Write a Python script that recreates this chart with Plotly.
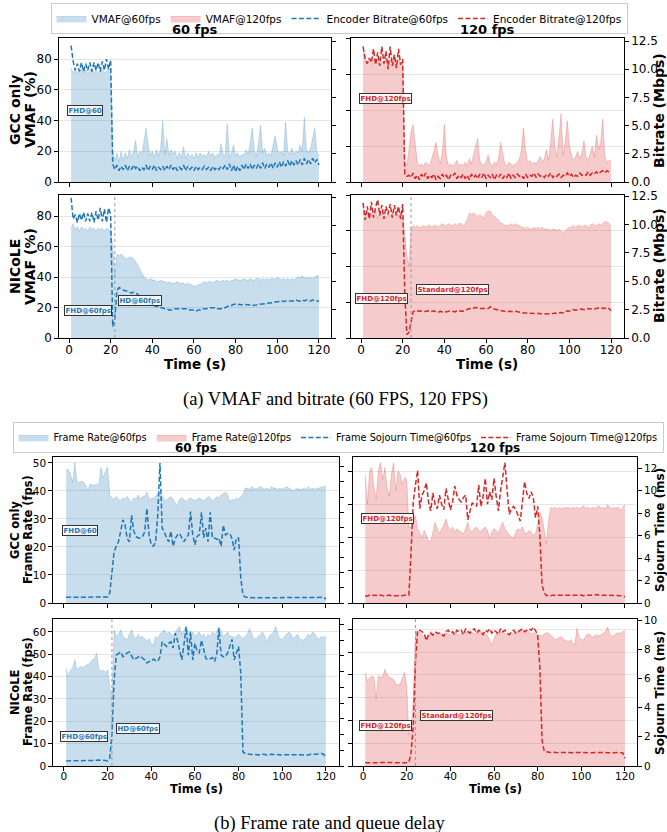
import plotly.graph_objects as go

W, H = 667, 832
t = list(range(1, 121))
x_ticks = [0, 20, 40, 60, 80, 100, 120]

# ---------------- (a) VMAF (fill) and encoder bitrate (dashed line) ----------------
vmaf60_gcc = [74,71,73,71,72,74,71,73,71,72,74,71,73,71,72,73,71,72,74,73,
              20,14,19,13,20,14,19,15,21,16,20,27,16,20,18,26,35,24,17,20,
              16,21,17,22,40,18,28,17,21,18,20,15,19,16,23,15,19,16,18,15,
              19,16,19,17,18,16,20,17,19,16,18,17,25,18,17,38,16,19,24,17,
              19,16,18,17,21,18,25,35,20,17,25,37,19,22,17,19,17,24,30,22,
              18,20,17,39,20,18,22,18,20,19,24,20,42,21,19,22,28,35,20,17]
br60_gcc = [12.1,10.7,9.9,10.5,9.8,10.6,9.8,10.5,9.9,10.6,9.8,10.6,9.9,10.6,9.8,10.7,9.9,10.9,10.0,10.8,
            1.6,1.1,1.5,1.0,1.4,1.1,1.5,1.0,1.4,1.1,1.5,1.2,1.4,1.0,1.3,1.1,1.5,1.0,1.4,1.1,
            1.5,1.0,1.3,1.1,1.4,1.0,1.4,1.1,1.5,1.1,1.4,1.0,1.3,1.1,1.5,1.0,1.4,1.1,1.3,1.0,
            1.4,1.1,1.3,1.1,1.4,1.1,1.3,1.0,1.4,1.1,1.3,1.1,1.4,1.2,1.5,1.1,1.6,1.0,1.5,0.9,
            1.4,1.0,1.5,1.1,1.6,1.2,1.6,1.1,1.5,1.2,1.6,1.2,1.7,1.2,1.6,1.3,1.7,1.2,1.7,1.3,
            1.8,1.3,1.8,1.4,1.9,1.4,1.9,1.5,1.9,1.5,2.0,1.5,2.1,1.6,2.0,1.6,2.1,1.7,2.0,1.5]
vmaf120_gcc = [76,68,66,69,65,68,66,69,65,67,66,69,65,68,66,69,65,68,66,67,
               12,9,18,28,32,20,11,9,10,9,11,10,9,13,18,22,15,10,16,32,
               14,9,10,9,10,12,9,10,9,11,9,13,10,16,20,24,12,9,10,11,
               15,10,9,11,10,13,22,15,10,9,11,10,9,10,11,13,18,30,17,11,
               12,10,11,10,12,14,11,13,18,12,22,35,20,14,25,38,15,22,34,20,
               15,12,14,17,13,16,23,14,12,16,20,14,26,18,22,35,14,11,12,12]
br120_gcc = [12.0,10.9,10.5,11.0,10.6,11.8,10.4,11.5,10.3,12.0,10.5,11.6,10.0,12.0,10.3,11.3,10.1,11.8,10.4,10.9,
             0.7,0.5,0.6,0.4,0.8,0.3,0.6,0.2,0.7,0.4,0.8,0.3,0.6,0.4,0.7,0.2,0.5,0.3,0.7,0.4,
             0.6,0.2,0.6,0.5,0.8,0.3,0.6,0.4,0.7,0.3,0.6,0.2,0.7,0.4,0.6,0.3,0.7,0.4,0.8,0.3,
             0.6,0.4,0.7,0.2,0.6,0.4,0.7,0.3,0.6,0.4,0.8,0.3,0.6,0.4,0.7,0.5,0.6,0.3,0.7,0.4,
             0.6,0.5,0.8,0.4,0.7,0.5,0.6,0.4,0.7,0.5,0.8,0.4,0.6,0.5,0.7,0.4,0.6,0.5,0.8,0.5,
             0.7,0.4,0.6,0.5,0.8,0.6,0.7,0.6,0.9,0.6,0.8,0.7,0.9,0.7,0.9,1.0,0.8,1.0,0.9,0.9]
vmaf60_nic = [72,75,71,73,70,73,71,72,70,73,71,72,70,72,71,72,70,72,71,71,
              60,40,55,54,55,54,52,52,53,53,52,50,48,45,42,40,39,38,39,38,
              38,37,37,38,37,37,36,37,36,36,36,37,36,36,36,35,36,35,35,34,
              34,35,35,36,37,36,37,37,36,37,38,37,37,38,37,38,37,38,38,39,
              38,38,38,39,38,38,39,38,38,39,39,38,39,38,39,38,39,39,38,40,
              39,38,39,38,39,38,39,38,39,40,39,41,39,40,39,40,39,40,41,41]
br60_nic = [12.5,10.6,11.0,10.3,11.1,10.5,11.2,10.4,11.1,10.4,11.2,10.3,11.3,10.5,11.6,10.4,11.5,10.3,11.6,11.0,
            1.0,1.7,4.2,4.5,4.4,4.3,4.2,4.2,4.1,4.0,4.1,4.0,3.9,3.7,3.5,3.3,3.2,3.0,3.0,2.9,
            2.9,2.8,2.8,2.7,2.7,2.6,2.6,2.5,2.5,2.5,2.6,2.6,2.6,2.6,2.6,2.6,2.6,2.5,2.5,2.5,
            2.4,2.5,2.5,2.6,2.6,2.6,2.7,2.7,2.7,2.7,2.6,2.6,2.6,2.6,2.7,2.8,2.9,2.9,3.0,3.0,
            2.95,3.0,2.95,3.0,3.0,2.95,2.95,2.9,2.9,2.95,3.0,3.0,3.05,3.05,3.1,3.1,3.1,3.15,3.2,3.2,
            3.25,3.3,3.25,3.3,3.3,3.3,3.35,3.3,3.4,3.3,3.3,3.4,3.3,3.4,3.3,3.3,3.4,3.3,3.3,3.3]
vmaf120_nic = [75,69,71,67,70,68,72,67,71,69,70,67,71,68,70,69,71,68,70,68,
               58,46,40,62,63,62,63,62,62,63,62,63,63,62,63,63,62,63,64,63,
               63,64,63,63,64,63,64,64,63,64,66,70,69,70,69,68,69,68,67,70,
               71,71,69,68,67,66,64,64,63,63,63,64,63,64,63,63,62,62,61,62,
               61,61,62,61,62,61,62,61,61,61,60,61,61,60,61,60,59,60,61,62,
               62,63,62,63,63,62,63,63,62,63,64,63,63,64,63,64,65,65,64,63]
br120_nic = [11.9,10.4,11.6,10.5,12.0,10.6,11.5,12.2,10.8,11.7,10.5,11.6,10.9,11.8,10.6,11.7,10.8,11.6,10.5,11.8,
             4.0,0.3,0.5,1.4,2.3,2.4,2.35,2.4,2.35,2.3,2.35,2.4,2.3,2.35,2.4,2.3,2.25,2.35,2.3,2.35,
             2.3,2.35,2.4,2.35,2.3,2.4,2.35,2.4,2.35,2.45,2.5,2.6,2.55,2.6,2.7,2.6,2.6,2.55,2.6,2.55,
             2.6,2.75,2.6,2.55,2.5,2.5,2.4,2.35,2.3,2.3,2.35,2.3,2.3,2.35,2.3,2.25,2.25,2.2,2.2,2.2,
             2.2,2.15,2.15,2.2,2.15,2.15,2.1,2.1,2.1,2.1,2.15,2.15,2.2,2.15,2.2,2.25,2.2,2.3,2.4,2.35,
             2.4,2.5,2.45,2.5,2.5,2.55,2.5,2.55,2.6,2.55,2.6,2.55,2.6,2.65,2.6,2.65,2.6,2.7,2.6,2.4]

# ---------------- (b) frame rate (fill) and frame sojourn time (dashed line) ----------------
fps60_gcc = [47.5,47.5,46,43,50,43,43,43.5,43,42,40,42.5,42,42,42.5,42,48.5,44.5,47,48.5,
             38.5,37.5,37,38,37,36.5,37.5,37,38,37,35.7,37.5,37,38.5,37,38,38,39.5,37.5,37,
             37.5,38,39,40,38,37,36.5,37.5,38,37,35.5,35,37,37.5,37,36,37,37.5,37,36.5,
             37,37.5,37,36.5,37,38,37.5,36.5,37,38,37.5,38.5,39,39.5,38.5,36,37,36.5,37.5,37,
             38,38.5,41,41,40.5,41.5,41,40.5,41,41.5,41,40.5,41,40.5,41.5,41,41,40.5,41,40.5,
             41,41.5,41,40.5,40,40.5,41,40.5,40.5,41,40.5,41.5,40.5,41,40.5,41,41,41.5,41.5,42]
soj60_gcc = [0.75,0.75,0.7,0.75,0.75,0.7,0.75,0.7,0.7,0.75,0.7,0.7,0.75,0.7,0.7,0.7,0.75,0.7,0.75,0.8,
             1.3,4.5,6.8,7.5,8.1,9.5,11.0,10.3,8.5,8.1,11.6,9.5,8.8,8.6,8.6,8.8,9.4,12.5,9.0,7.7,
             7.5,8.0,11.7,18.5,9.9,9.4,8.6,8.1,9.5,7.5,8.5,9.0,9.2,8.6,8.1,8.6,9.0,12.1,9.0,7.7,
             8.8,9.0,12.0,8.6,9.9,8.1,12.0,8.6,8.6,8.4,8.6,7.5,10.3,9.0,9.2,9.2,8.5,7.0,8.6,8.6,
             3.3,1.05,0.8,0.75,0.7,0.75,0.7,0.7,0.75,0.7,0.7,0.75,0.7,0.7,0.7,0.75,0.7,0.7,0.75,0.7,
             0.7,0.7,0.75,0.7,0.7,0.75,0.7,0.7,0.7,0.75,0.7,0.7,0.75,0.7,0.75,0.7,0.75,0.7,0.75,0.5]
fps120_gcc = [78,60,80,82,70,63,80,85,75,82,70,65,78,85,68,80,78,72,76,75,
              46,46,50,53,45,42,40,44,41,38,37,44,49,45,42,45,47,51,46,44,
              46,43,45,44,43,42,45,49,44,43,45,46,44,43,45,46,44,39,43,45,
              44,42,46,49,45,43,41,40,39,43,45,44,46,43,42,44,43,41,42,48,
              55,52,44,36,50,58,57,58,57,58,57,58,57.5,58,57,58,57.5,58,57,58,
              59,57.5,58,57,58,57.5,58,59,57.5,58,57,59.5,58,57,58,57.5,58,56,58,59.5]
soj120_gcc = [0.65,0.6,0.7,0.65,0.7,0.65,0.65,0.7,0.65,0.6,0.65,0.7,0.65,0.65,0.6,0.65,0.7,0.65,0.7,0.7,
              0.7,4.6,9.0,10.5,11.8,8.4,9.6,10.0,10.7,9.0,8.2,9.8,8.8,8.4,9.6,8.8,8.3,10.2,9.2,8.3,
              9.0,10.4,9.6,9.2,9.0,9.4,9.6,7.4,8.2,8.9,8.8,8.6,10.5,8.6,9.5,11.1,8.8,9.9,9.2,11.1,
              9.5,8.2,10.0,11.1,12.5,10.0,7.9,8.4,8.6,8.3,7.8,7.3,9.0,10.8,9.8,9.3,9.9,9.4,7.6,8.6,
              6.0,1.6,0.9,0.65,0.7,0.65,0.7,0.7,0.65,0.7,0.65,0.7,0.7,0.65,0.7,0.7,0.65,0.7,0.75,0.7,
              0.65,0.7,0.7,0.65,0.7,0.7,0.75,0.7,0.65,0.7,0.7,0.65,0.7,0.7,0.65,0.7,0.7,0.65,0.6,0.55]
fps60_nic = [43.7,40,43,44,47.5,43,44,44.5,44,45,45.5,46,47.5,48,50.5,43,42.5,43,42,43,
             35,29.6,61,58,59,61,58,57,56.4,59,61,58,57,59,57.5,58,57,56,57,55,
             54,58,57,59,60,61,59,60,59.4,58,60,61,62.4,59,61,62.4,60,58.7,60,58,
             59,60,58,59,57,59,58,60,59,60,62.4,60,58,59,60,58,58,57.5,58,59,
             58,57,58,59,61.6,59,57,57,58,59,60,58,55.7,58,59,60,62.4,59,57,56.4,
             58,59,60,59,57,58,59,57,56.5,56.4,58,59,58,60,59,57,57,58,57.5,58]
soj60_nic = [0.64,0.64,0.65,0.64,0.64,0.66,0.64,0.64,0.65,0.64,0.64,0.65,0.66,0.7,0.72,0.75,0.75,0.74,0.7,0.64,
             1.0,4.0,11.0,14.1,14.3,14.5,13.9,14.2,14.4,14.5,14.0,13.5,13.7,13.9,14.0,13.7,13.5,13.1,13.3,13.3,
             13.6,13.4,13.3,13.9,15.8,15.5,15.2,15.6,15.8,15.0,16.9,16.0,14.8,13.5,15.5,17.7,14.1,17.1,13.5,15.6,
             14.6,14.4,16.0,15.0,13.7,13.5,13.7,13.8,13.3,14.2,17.5,14.1,13.9,13.9,14.4,15.2,16.1,13.5,14.5,15.2,
             11.8,1.8,1.6,1.5,1.5,1.45,1.5,1.45,1.4,1.45,1.5,1.45,1.4,1.45,1.5,1.45,1.5,1.45,1.4,1.45,
             1.45,1.4,1.45,1.4,1.45,1.45,1.4,1.45,1.4,1.45,1.45,1.4,1.5,1.45,1.5,1.5,1.55,1.6,1.5,1.0]
fps120_nic = [82,75,77,79,78,59,79,78,78,85,80,78,77,76,72,71,72,78,82,70,
              27,32,58,116,119,117,115,113,110.5,114,118,116,115,116,117,116,115,117,116,115,
              116,117,116,115,117,116,117,118,119,117,116,116,117,118,117,116,115,110,106,112,
              116,115,117,118,116,115,116,117,116,118,117,118,119,117,118,118,116,117,116,115,
              115,114,116,117,116.5,115,113,110.5,112,113,113.5,111,110,109,111,108,106,120.8,113,111,
              110.5,114,116,115,113,114,115,114,115,116,118,122,116,113.5,115,116,117,116,118,119]
soj120_nic = [0.23,0.22,0.24,0.23,0.23,0.22,0.23,0.24,0.23,0.22,0.23,0.23,0.24,0.23,0.22,0.23,0.23,0.24,0.23,0.23,
              0.25,0.9,2.7,7.1,9.3,9.3,9.2,9.1,8.6,9.0,9.1,8.97,9.2,9.1,9.1,9.0,8.9,9.2,9.3,9.1,
              9.2,9.0,9.3,9.2,9.3,9.0,9.4,9.2,9.1,9.3,9.4,9.1,9.3,9.2,9.0,9.3,9.2,9.4,9.1,9.3,
              9.2,9.0,9.4,9.2,9.3,9.1,9.0,9.2,9.3,9.1,9.2,9.3,9.4,9.2,9.3,9.4,9.3,9.5,9.3,8.9,
              6.8,1.8,1.0,0.96,0.95,0.93,0.94,0.92,0.9,0.91,0.93,0.92,0.9,0.92,0.93,0.91,0.92,0.94,0.93,0.92,
              0.91,0.92,0.93,0.92,0.91,0.92,0.93,0.92,0.91,0.92,0.93,0.91,0.92,0.93,0.92,0.93,0.92,0.91,0.9,0.53]

for arr in [vmaf60_gcc, br60_gcc, vmaf120_gcc, br120_gcc, vmaf60_nic, br60_nic, vmaf120_nic, br120_nic,
            fps60_gcc, soj60_gcc, fps120_gcc, soj120_gcc, fps60_nic, soj60_nic, fps120_nic, soj120_nic]:
    assert len(arr) == 120, len(arr)

BLUE, RED = '#1f77b4', '#d62728'
FILL = {BLUE: 'rgba(31,119,180,0.24)', RED: 'rgba(214,39,40,0.24)'}
EDGE = {BLUE: 'rgba(31,119,180,0.22)', RED: 'rgba(214,39,40,0.22)'}
FONT = 'DejaVu Sans'

# panel boxes in pixels: left, right, top, bottom
panels = [
    dict(box=(59, 331, 38, 182), xr=[-4.8, 125.8], xlab=False, fs=12,
         fill=vmaf60_gcc, line=br60_gcc, c=BLUE, y1=[0, 93.7], d1=20, l1=True,
         y2=[0, 12.77], d2=2.5, l2=False, fmt='.1f', leg='legend', names=('VMAF@60fps', 'Encoder Bitrate@60fps'), ranks=(1, 3)),
    dict(box=(351, 624, 38, 182), xr=[-4.8, 126.2], xlab=False, fs=12,
         fill=vmaf120_gcc, line=br120_gcc, c=RED, y1=[0, 80], d1=20, l1=False,
         y2=[0, 12.77], d2=2.5, l2=True, fmt='.1f', leg='legend', names=('VMAF@120fps', 'Encoder Bitrate@120fps'), ranks=(2, 4)),
    dict(box=(59, 331, 195, 338), xr=[-4.8, 125.8], xlab=True, fs=12,
         fill=vmaf60_nic, line=br60_nic, c=BLUE, y1=[0, 93.8], d1=20, l1=True,
         y2=[0, 12.75], d2=2.5, l2=False, fmt='.1f', leg=None, vline=22),
    dict(box=(351, 624, 195, 338), xr=[-4.8, 126.2], xlab=True, fs=12,
         fill=vmaf120_nic, line=br120_nic, c=RED, y1=[0, 80], d1=20, l1=False,
         y2=[0, 12.6], d2=2.5, l2=True, fmt='.1f', leg=None, vline=24),
    dict(box=(53, 339, 457, 603), xr=[-5, 126], xlab=False, fs=10.5,
         fill=fps60_gcc, line=soj60_gcc, c=BLUE, y1=[0, 52.1], d1=10, l1=True,
         y2=[0, 19.3], d2=2, l2=False, fmt='d', leg='legend2', names=('Frame Rate@60fps', 'Frame Sojourn Time@60fps'), ranks=(1, 3)),
    dict(box=(353, 637, 457, 603), xr=[-4.6, 125.5], xlab=False, fs=10.5,
         fill=fps120_gcc, line=soj120_gcc, c=RED, y1=[0, 88.5], d1=20, l1=False,
         y2=[0, 13.0], d2=2, l2=True, fmt='d', leg='legend2', names=('Frame Rate@120fps', 'Frame Sojourn Time@120fps'), ranks=(2, 4)),
    dict(box=(53, 339, 619, 766), xr=[-5, 126], xlab=True, fs=10.5,
         fill=fps60_nic, line=soj60_nic, c=BLUE, y1=[0, 65.8], d1=10, l1=True,
         y2=[0, 18.7], d2=2, l2=False, fmt='d', leg=None, vline=22),
    dict(box=(353, 637, 619, 766), xr=[-4.6, 125.5], xlab=True, fs=10.5,
         fill=fps120_nic, line=soj120_nic, c=RED, y1=[0, 129], d1=20, l1=False,
         y2=[0, 10.07], d2=2, l2=True, fmt='d', leg=None, vline=24),
]

fig = go.Figure()
layout = dict(width=W, height=H, autosize=False,
              margin=dict(l=0, r=0, t=0, b=0, pad=0, autoexpand=False),
              paper_bgcolor='white', plot_bgcolor='white',
              font=dict(family=FONT, color='black'), shapes=[], annotations=[])

axis_common = dict(showline=True, linecolor='black', linewidth=1.3, ticks='outside',
                   ticklen=3.5, tickwidth=1, tickcolor='black', zeroline=False, automargin=False)

for i, p in enumerate(panels, start=1):
    x0, x1, yt, yb = p['box']
    xa, ya, ya2 = f'x{i}', f'y{i}', f'y{i + 8}'
    layout[f'xaxis{i}'] = dict(axis_common, domain=[x0 / W, x1 / W], anchor=ya, range=p['xr'],
                               tickvals=x_ticks, showticklabels=p['xlab'], mirror=True, showgrid=False,
                               tickfont=dict(size=p['fs']), ticklabelstandoff=-3)
    layout[f'yaxis{i}'] = dict(axis_common, domain=[1 - yb / H, 1 - yt / H], anchor=xa, range=p['y1'],
                               dtick=p['d1'], tick0=0, showticklabels=p['l1'], showgrid=True,
                               gridcolor='#e6e6e6', gridwidth=1, tickfont=dict(size=p['fs']))
    layout[f'yaxis{i + 8}'] = dict(axis_common, overlaying=ya, side='right', anchor=xa, range=p['y2'],
                                   dtick=p['d2'], tick0=0, tickformat=p['fmt'], showticklabels=p['l2'],
                                   showgrid=False, tickfont=dict(size=p['fs']))
    show = p['leg'] is not None
    fkw = dict(name=p['names'][0], legend=p['leg'], legendrank=p['ranks'][0]) if show else dict()
    lkw = dict(name=p['names'][1], legend=p['leg'], legendrank=p['ranks'][1]) if show else dict()
    fig.add_trace(go.Scatter(x=t, y=p['fill'], xaxis=xa, yaxis=ya, mode='lines', fill='tozeroy',
                             fillcolor=FILL[p['c']], line=dict(color=EDGE[p['c']], width=1),
                             showlegend=show, hoverinfo='skip', **fkw))
    fig.add_trace(go.Scatter(x=t, y=p['line'], xaxis=xa, yaxis=ya2, mode='lines',
                             line=dict(color=p['c'], width=1.5, dash='5px,2.4px'),
                             showlegend=show, hoverinfo='skip', **lkw))
    if 'vline' in p:
        layout['shapes'].append(dict(type='line', xref=xa, yref=f'{ya} domain', x0=p['vline'], x1=p['vline'],
                                     y0=0, y1=1, line=dict(color='#999999', width=1, dash='dot')))

# boxed labels (panel index, text, x data, y data on primary axis)
labels = [
    (1, 'FHD@60', 7.7, 46.8, BLUE),
    (2, 'FHD@120fps', 11.8, 46.4, RED),
    (3, 'FHD@60fps', 8.9, 18.0, BLUE),
    (3, 'HD@60fps', 34.3, 24.3, BLUE),
    (4, 'FHD@120fps', 9.6, 22.1, RED),
    (4, 'Standard@120fps', 43.9, 26.9, RED),
    (5, 'FHD@60', 7.3, 25.9, BLUE),
    (6, 'FHD@120fps', 11.2, 51.5, RED),
    (7, 'FHD@60fps', 9.4, 13.0, BLUE),
    (7, 'HD@60fps', 33.9, 17.0, BLUE),
    (8, 'FHD@120fps', 10.1, 35.5, RED),
    (8, 'Standard@120fps', 42.8, 43.9, RED),
]
for i, txt, xv, yv, c in labels:
    layout['annotations'].append(dict(text=f'<b>{txt}</b>', x=xv, y=yv, xref=f'x{i}', yref=f'y{i}',
                                      showarrow=False, font=dict(size=7, color=c, family=FONT),
                                      bgcolor='rgba(255,255,255,0.85)', bordercolor='#333333',
                                      borderwidth=1, borderpad=0.5, xanchor='center', yanchor='middle'))


def ann(text, xp, yp, size, angle=0, family=FONT, bold=True):
    layout['annotations'].append(dict(text=f'<b>{text}</b>' if bold else text, x=xp / W, y=1 - yp / H,
                                      xref='paper', yref='paper', showarrow=False, textangle=angle,
                                      font=dict(size=size, family=family, color='black'),
                                      xanchor='center', yanchor='middle'))


# column titles
ann('60 fps', 195, 30, 13)
ann('120 fps', 487, 30, 13)
ann('60 fps', 196, 448, 12)
ann('120 fps', 495, 448, 12)
# row / axis titles (a)
ann('GCC only', 15, 110, 14, -90)
ann('VMAF (%)', 30, 110, 14, -90)
ann('NICoLE', 15, 267, 14, -90)
ann('VMAF (%)', 30, 267, 14, -90)
ann('Bitrate (Mbps)', 659, 111, 14, -90)
ann('Bitrate (Mbps)', 659, 266, 14, -90)
ann('Time (s)', 195, 364, 13.5)
ann('Time (s)', 487, 364, 13.5)
# row / axis titles (b)
ann('GCC only', 15, 530, 11.5, -90)
ann('Frame Rate (fps)', 28, 530, 11.5, -90)
ann('NICoLE', 15, 692, 11.5, -90)
ann('Frame Rate (fps)', 28, 692, 11.5, -90)
ann('Sojourn Time (ms)', 660, 530, 12, -90)
ann('Sojourn Time (ms)', 660, 693, 12, -90)
ann('Time (s)', 196, 789, 11.5)
ann('Time (s)', 495, 789, 11.5)
# captions
ann('(a) VMAF and bitrate (60 FPS, 120 FPS)', 335, 399, 18.5, family='Liberation Serif', bold=False)
ann('(b) Frame rate and queue delay', 329, 823, 18.5, family='Liberation Serif', bold=False)

legend_common = dict(orientation='h', xanchor='center', yanchor='top', bgcolor='white',
                     bordercolor='#cccccc', borderwidth=1, itemwidth=30, tracegroupgap=0,
                     traceorder='normal')
layout['legend'] = dict(legend_common, x=339 / W, y=1 - 3 / H, font=dict(size=10.5, family=FONT))
layout['legend2'] = dict(legend_common, x=338 / W, y=1 - 422 / H, font=dict(size=9.8, family=FONT))

fig.update_layout(**layout)
fig.write_html('out.html', config={'displayModeBar': False, 'staticPlot': True},
               post_script="document.body.style.margin='0px';document.body.style.overflow='hidden';")
